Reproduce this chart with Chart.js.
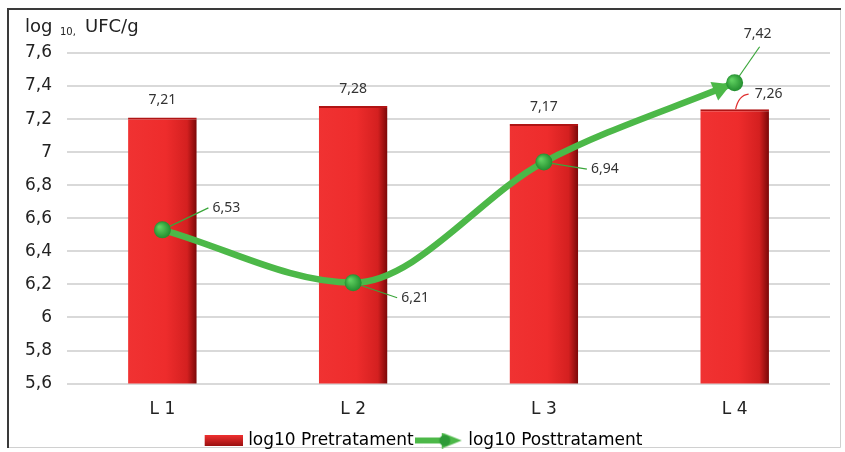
<!DOCTYPE html>
<html><head><meta charset="utf-8">
<script src="https://cdn.jsdelivr.net/npm/chart.js@4/dist/chart.umd.min.js"></script>
<style>html,body{margin:0;padding:0;background:#fff;}canvas{display:block;}</style>
</head><body>
<canvas id="c" width="845" height="452"></canvas>
<script>
const categories = ['L 1', 'L 2', 'L 3', 'L 4'];
const pretratament = [7.21, 7.28, 7.17, 7.26];
const posttratament = [6.53, 6.21, 6.94, 7.42];
const seriesNames = ['log10 Pretratament', 'log10 Posttratament'];
const yTicks = [5.6, 5.8, 6, 6.2, 6.4, 6.6, 6.8, 7, 7.2, 7.4, 7.6];

const fmt = v => String(Math.round(v * 100) / 100).replace('.', ',');
const FONT = '"DejaVu Sans", "Liberation Sans", Arial, sans-serif';
const LFONT = '"Noto Sans", sans-serif';
const BAR_PCT = 0.36;

function redIcon() {
  const c = document.createElement('canvas'); c.width = 48; c.height = 11;
  const x = c.getContext('2d');
  const g = x.createLinearGradient(0, 0, 0, 11);
  g.addColorStop(0, '#f03030'); g.addColorStop(1, '#9a1010');
  x.fillStyle = g; x.fillRect(10, 0, 38, 11);
  return c;
}
function greenIcon() {
  const c = document.createElement('canvas'); c.width = 48; c.height = 16;
  const x = c.getContext('2d');
  x.strokeStyle = '#4cb848'; x.lineWidth = 6;
  x.beginPath(); x.moveTo(0, 8); x.lineTo(32, 8); x.stroke();
  x.fillStyle = '#4cb848';
  x.beginPath(); x.moveTo(27, 0); x.lineTo(47, 8); x.lineTo(27, 16); x.closePath(); x.fill();
  x.fillStyle = '#2e9a38'; x.beginPath(); x.arc(30, 8, 5.5, 0, Math.PI * 2); x.fill();
  return c;
}

const frame = {
  id: 'frame',
  beforeDraw(chart) {
    const ctx = chart.ctx;
    ctx.save();
    ctx.fillStyle = '#fff'; ctx.fillRect(0, 0, chart.width, chart.height);
    ctx.strokeStyle = '#d0d0d0'; ctx.lineWidth = 1;
    ctx.beginPath(); ctx.moveTo(840.5, 8); ctx.lineTo(840.5, 447.5); ctx.lineTo(7, 447.5); ctx.stroke();
    ctx.strokeStyle = '#3a3a3a'; ctx.lineWidth = 2;
    ctx.beginPath(); ctx.moveTo(8, 448); ctx.lineTo(8, 9); ctx.lineTo(841, 9); ctx.stroke();
    ctx.fillStyle = '#222'; ctx.textBaseline = 'alphabetic'; ctx.textAlign = 'left';
    ctx.font = '18px ' + FONT; ctx.fillText('log', 25, 32);
    ctx.font = '10px ' + FONT; ctx.fillText('10,', 60, 35);
    ctx.font = '18px ' + FONT; ctx.fillText('UFC/g', 85, 32);
    ctx.restore();
  }
};

const labelsPlugin = {
  id: 'vlabels',
  afterDatasetsDraw(chart) {
    const ctx = chart.ctx;
    ctx.save();
    ctx.font = '14px ' + LFONT; ctx.fillStyle = '#333';
    ctx.textBaseline = 'middle';
    const bars = chart.getDatasetMeta(1).data;
    bars.forEach((b, i) => {
      const t = fmt(pretratament[i]);
      if (i === 3) {
        ctx.strokeStyle = '#e03030'; ctx.lineWidth = 1.2;
        ctx.beginPath(); ctx.moveTo(b.x + 1, b.y);
        ctx.quadraticCurveTo(b.x + 4, b.y - 14, b.x + 14, b.y - 15); ctx.stroke();
        ctx.textAlign = 'left'; ctx.fillText(t, b.x + 20, b.y - 15);
      } else {
        ctx.textAlign = 'center'; ctx.fillText(t, b.x, b.y - 17);
      }
    });
    const pts = chart.getDatasetMeta(0).data;
    const off = [[50, -22], [48, 15], [47, 7], [23, -49]];
    ctx.strokeStyle = '#3aa63a'; ctx.lineWidth = 1.2;
    pts.forEach((p, i) => {
      const [dx, dy] = off[i];
      const t = fmt(posttratament[i]);
      ctx.beginPath();
      if (i === 3) {
        ctx.moveTo(p.x, p.y); ctx.lineTo(p.x + dx + 2, p.y + dy + 13); ctx.stroke();
        ctx.textAlign = 'center'; ctx.fillText(t, p.x + dx, p.y + dy);
      } else {
        ctx.moveTo(p.x, p.y); ctx.lineTo(p.x + dx - 4, p.y + dy); ctx.stroke();
        ctx.textAlign = 'left'; ctx.fillText(t, p.x + dx, p.y + dy);
      }
    });
    ctx.restore();
  }
};

function greenBall(ctx, x, y) {
  const g = ctx.createRadialGradient(x - 3, y - 3, 1, x, y, 9);
  g.addColorStop(0, '#5fd060'); g.addColorStop(1, '#1f8a2c');
  ctx.fillStyle = g; ctx.beginPath(); ctx.arc(x, y, 8.5, 0, Math.PI * 2); ctx.fill();
}

const arrowPlugin = {
  id: 'arrow',
  afterDatasetsDraw(chart) {
    const pts = chart.getDatasetMeta(0).data;
    const n = pts.length, p = pts[n - 1];
    const cp = (p.cp1x !== undefined && isFinite(p.cp1x)) ? { x: p.cp1x, y: p.cp1y } : pts[n - 2];
    const ang = Math.atan2(p.y - cp.y, p.x - cp.x);
    const ctx = chart.ctx;
    ctx.save();
    ctx.translate(p.x, p.y); ctx.rotate(ang);
    ctx.fillStyle = '#4cb848';
    ctx.beginPath(); ctx.moveTo(-4, 0); ctx.lineTo(-22, -10); ctx.lineTo(-22, 10); ctx.closePath(); ctx.fill();
    ctx.restore();
    ctx.save();
    pts.forEach(q => greenBall(ctx, q.x, q.y));
    ctx.restore();
  }
};

function barGrad(c) {
  const chart = c.chart; const xs = chart.scales.x;
  if (!chart.chartArea || !xs || c.dataIndex === undefined) return '#ee2a2a';
  const cx = xs.getPixelForValue(c.dataIndex);
  const w = xs.width / categories.length * BAR_PCT;
  const x0 = cx - w / 2;
  if (!isFinite(x0) || !isFinite(w) || w <= 0) return '#ee2a2a';
  const g = chart.ctx.createLinearGradient(x0, 0, x0 + w, 0);
  g.addColorStop(0, '#f03232'); g.addColorStop(0.55, '#ee2c2c');
  g.addColorStop(0.86, '#d42020'); g.addColorStop(1, '#7a0808');
  return g;
}

new Chart(document.getElementById('c'), {
  data: {
    labels: categories,
    datasets: [
      {
        type: 'line', label: seriesNames[1], data: posttratament, order: 0,
        borderColor: '#4cb848', borderWidth: 6.5, cubicInterpolationMode: 'monotone',
        pointRadius: 0, pointHoverRadius: 0, backgroundColor: '#2e9a38'
      },
      {
        type: 'bar', label: seriesNames[0], data: pretratament, order: 1,
        backgroundColor: barGrad, borderColor: '#b01414',
        borderWidth: { top: 2, right: 0, left: 0, bottom: 0 }, borderSkipped: 'bottom',
        barPercentage: BAR_PCT, categoryPercentage: 1
      }
    ]
  },
  plugins: [frame, labelsPlugin, arrowPlugin],
  options: {
    responsive: false, animation: false, devicePixelRatio: 1,
    layout: { padding: { top: 53, right: 15, left: 10, bottom: -7 } },
    plugins: {
      tooltip: { enabled: false },
      legend: {
        position: 'bottom',
        labels: {
          usePointStyle: true, pointStyleWidth: 42, padding: 4,
          color: '#222', font: { size: 17, family: FONT },
          generateLabels(chart) {
            return [
              { text: seriesNames[0], pointStyle: redIcon(), datasetIndex: 1, fillStyle: '#e22', strokeStyle: '#e22', lineWidth: 0, hidden: false },
              { text: seriesNames[1], pointStyle: greenIcon(), datasetIndex: 0, fillStyle: '#4cb848', strokeStyle: '#4cb848', lineWidth: 0, hidden: false }
            ];
          }
        }
      }
    },
    scales: {
      x: {
        grid: { display: false }, border: { display: false },
        ticks: { color: '#222', font: { size: 17, family: FONT }, padding: 8 }
      },
      y: {
        min: 5.6, max: 7.6,
        afterBuildTicks(axis) { axis.ticks = yTicks.map(v => ({ value: v })); },
        grid: { color: '#d9d9d9', lineWidth: 2, drawTicks: false },
        border: { display: false },
        ticks: { color: '#222', font: { size: 17, family: FONT }, padding: 15, callback: v => fmt(v) }
      }
    }
  }
});
</script>
</body></html>
